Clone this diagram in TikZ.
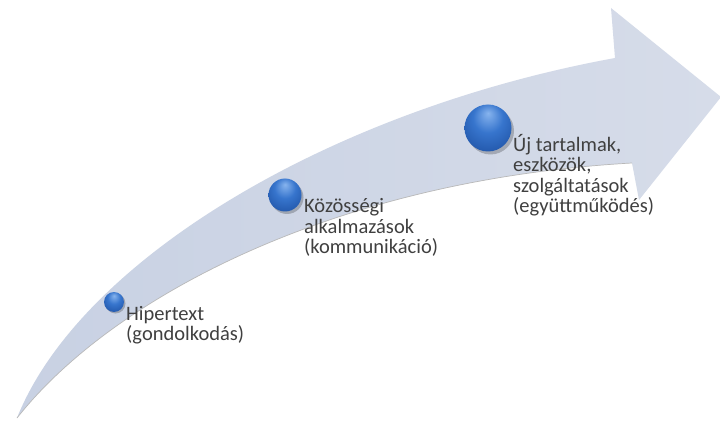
\documentclass[tikz,border=0pt]{standalone}
\usepackage{fontspec}
\setmainfont{Carlito}
\usetikzlibrary{positioning}

\definecolor{arrowlight}{RGB}{214,220,233}
\definecolor{arrowdark}{RGB}{200,209,227}
\definecolor{balllight}{RGB}{135,180,238}
\definecolor{ballmid}{RGB}{55,117,205}
\definecolor{balldark}{RGB}{28,78,160}
\definecolor{labeltext}{RGB}{64,64,64}

\pgfdeclareradialshading{stageball}{\pgfpoint{0bp}{16bp}}{%
  color(0bp)=(balllight); color(16bp)=(ballmid); color(38bp)=(balldark); color(50bp)=(balldark)}

\tikzset{
  stage/.style={circle, inner sep=0pt, minimum size=#1, shading=stageball},
  stageshadow/.style={circle, inner sep=0pt, minimum size=#1, fill=black, opacity=0.22},
  stagelabel/.style={anchor=base west, align=left, inner sep=0pt, text=labeltext,
    font=\fontsize{20.5}{20}\selectfont},
}

\begin{document}
\begin{tikzpicture}[x=1pt,y=-1pt]
                    \clip (0,0) rectangle (720,422);
                    \fill[white] (0,0) rectangle (720,422);

                    % the bent arrow
                    \coordinate (tail) at (17,418);
                    \coordinate (headtop) at (615,58);
                    \coordinate (barbtop) at (611,8);
                    \coordinate (tip) at (721,97);
                    \coordinate (barbbot) at (639,200);
                    \coordinate (headbot) at (632,163);
                    \shade[left color=arrowdark, right color=arrowlight]
                        (tail) .. controls (80,260) and (330,110) .. (headtop)
                        -- (barbtop) -- (tip) -- (barbbot) -- (headbot)
                        .. controls (330,180) and (110,300) .. (tail) -- cycle;
                    \draw[gray!55, line width=0.7pt]
                        (headbot) .. controls (330,180) and (110,300) .. (tail);

                    % stages (label anchor sits on the last line)
                    \node[stageshadow=20pt] at (115.5,303.5) {};
                    \node[stage=20pt] (hiper) at (114,302) {};
                    \node[stagelabel] (hiperlabel) at (126,340) {Hipertext\\(gondolkodás)};

                    \node[stageshadow=33pt] at (287,197.5) {};
                    \node[stage=33pt] (kozos) at (285,195) {};
                    \node[stagelabel] (kozoslabel) at (304,253) {Közösségi\\alkalmazások\\(kommunikáció)};

                    \node[stageshadow=47pt] at (490.5,131) {};
                    \node[stage=47pt] (uj) at (488,128) {};
                    \node[stagelabel] (ujlabel) at (513,212) {Új tartalmak,\\eszközök,\\szolgáltatások\\(együttműködés)};
                \end{tikzpicture}
\end{document}
